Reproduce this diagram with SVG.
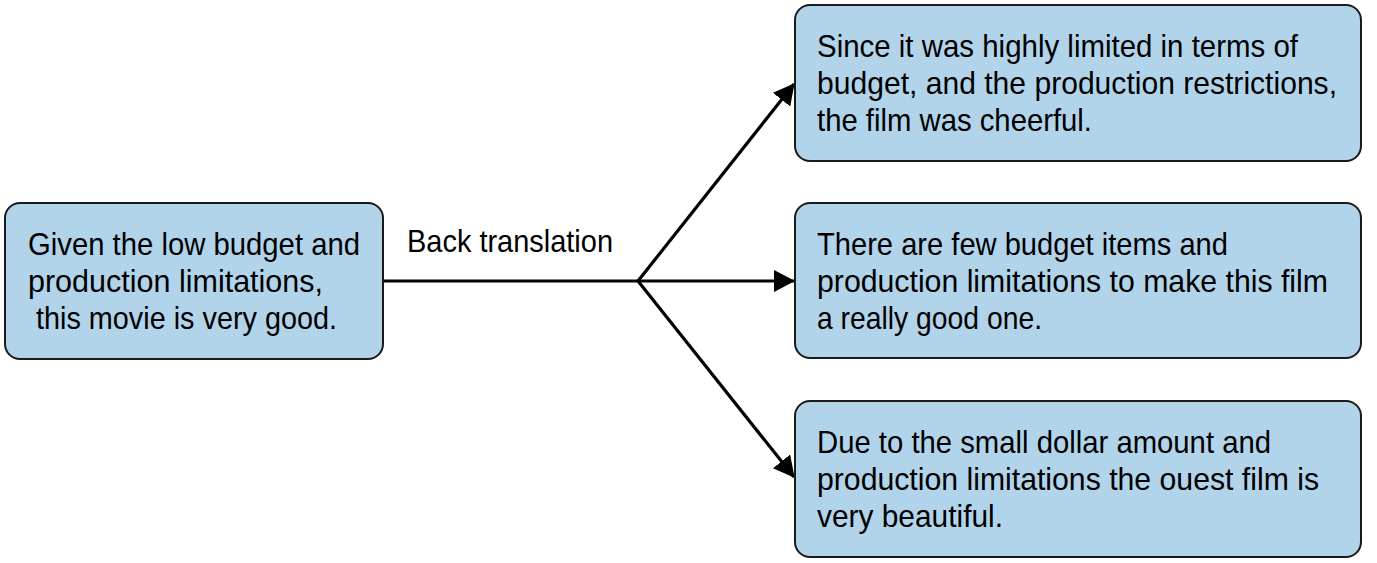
<svg xmlns="http://www.w3.org/2000/svg" width="1377" height="563" viewBox="0 0 1377 563">
<style>
.box{fill:#b1d4ea;stroke:#1a1a1a;stroke-width:2}
.t{font-family:"Liberation Sans",Arial,sans-serif;font-size:32px;fill:#000}
.edge{stroke:#000;stroke-width:3.2;fill:none}
</style>
<defs>
<marker id="ah" markerUnits="userSpaceOnUse" markerWidth="24" markerHeight="26" refX="20" refY="11" orient="auto">
<path d="M0,0 L21,11 L0,22 z" fill="#000"/>
</marker>
</defs>
<rect width="1377" height="563" fill="#fff"/>
<g id="connectors">
<line class="edge" x1="383" y1="281" x2="638" y2="281"/>
<line class="edge" x1="638" y1="281" x2="794" y2="84" marker-end="url(#ah)"/>
<line class="edge" x1="638" y1="281" x2="794" y2="281" marker-end="url(#ah)"/>
<line class="edge" x1="638" y1="281" x2="794" y2="477" marker-end="url(#ah)"/>
<text class="t" x="407" y="252" textLength="206" lengthAdjust="spacingAndGlyphs">Back translation</text>
</g>
<g id="source">
<rect class="box" x="5" y="203" width="378" height="156" rx="15"/>
<text class="t" x="28" y="255" textLength="332" lengthAdjust="spacingAndGlyphs">Given the low budget and</text>
<text class="t" x="28" y="292" textLength="295" lengthAdjust="spacingAndGlyphs">production limitations,</text>
<text class="t" x="28" y="329" textLength="309" lengthAdjust="spacingAndGlyphs" xml:space="preserve"> this movie is very good.</text>
</g>
<g id="out1">
<rect class="box" x="795" y="5" width="566" height="156" rx="15"/>
<text class="t" x="817" y="57" textLength="481" lengthAdjust="spacingAndGlyphs">Since it was highly limited in terms of</text>
<text class="t" x="817" y="94" textLength="520" lengthAdjust="spacingAndGlyphs">budget, and the production restrictions,</text>
<text class="t" x="817" y="131" textLength="275" lengthAdjust="spacingAndGlyphs">the film was cheerful.</text>
</g>
<g id="out2">
<rect class="box" x="795" y="203" width="566" height="155" rx="15"/>
<text class="t" x="817" y="255" textLength="411" lengthAdjust="spacingAndGlyphs">There are few budget items and</text>
<text class="t" x="817" y="292" textLength="511" lengthAdjust="spacingAndGlyphs">production limitations to make this film</text>
<text class="t" x="817" y="329" textLength="225" lengthAdjust="spacingAndGlyphs">a really good one.</text>
</g>
<g id="out3">
<rect class="box" x="795" y="401" width="566" height="156" rx="15"/>
<text class="t" x="817" y="453" textLength="454" lengthAdjust="spacingAndGlyphs">Due to the small dollar amount and</text>
<text class="t" x="817" y="490" textLength="502" lengthAdjust="spacingAndGlyphs">production limitations the ouest film is</text>
<text class="t" x="817" y="527" textLength="186" lengthAdjust="spacingAndGlyphs">very beautiful.</text>
</g>
</svg>
